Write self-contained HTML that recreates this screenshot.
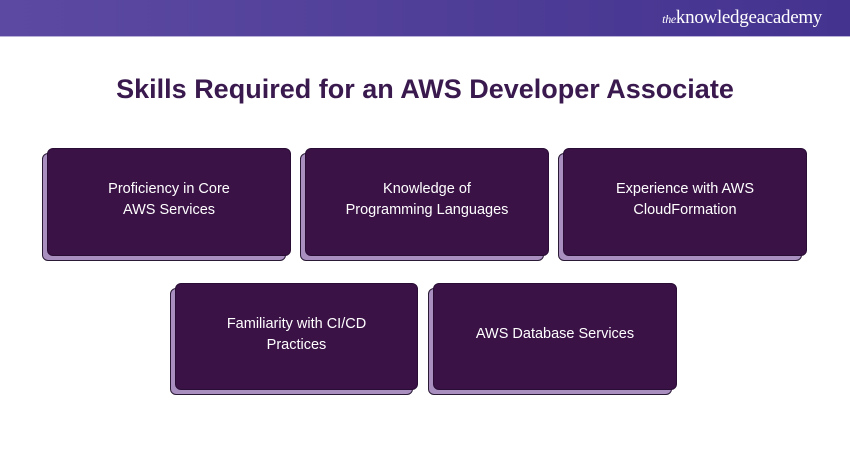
<!DOCTYPE html>
<html><head><meta charset="utf-8"><style>
body{margin:0;width:850px;height:450px;background:#fff;position:relative;overflow:hidden;font-family:"Liberation Sans",sans-serif}
.hdr{position:absolute;left:0;top:0;width:850px;height:36px;background:linear-gradient(90deg,#5c4aa2,#44338f);border-bottom:1px solid #b9b0d8}
.logo{position:absolute;right:28px;top:7px;color:#fff;font-family:"Liberation Serif",serif;font-size:19px;letter-spacing:-0.3px}
.logo i{font-size:12px}
h1{position:absolute;left:0;width:850px;top:74px;margin:0;text-align:center;font-size:27px;font-weight:bold;color:#3a1a4e}
.sh{position:absolute;background:#a88fc0;border:1.5px solid #2a1a35;border-radius:6px;box-sizing:border-box}
.bx{position:absolute;background:#3a1246;border:1.5px solid #2a0d35;border-radius:6px;box-sizing:border-box;color:#fff;font-size:14.5px;line-height:21px;text-align:center;display:flex;align-items:center;justify-content:center;padding-bottom:4px}
</style></head><body>
<div class="hdr"><div class="logo"><i>the</i>knowledgeacademy</div></div>
<h1>Skills Required for an AWS Developer Associate</h1>

<div class="sh" style="left:42px;top:153px;width:244px;height:108px"></div>
<div class="bx" style="left:47px;top:148px;width:244px;height:108px">Proficiency in Core<br>AWS Services</div>

<div class="sh" style="left:300px;top:153px;width:244px;height:108px"></div>
<div class="bx" style="left:305px;top:148px;width:244px;height:108px">Knowledge of<br>Programming Languages</div>

<div class="sh" style="left:558px;top:153px;width:244px;height:108px"></div>
<div class="bx" style="left:563px;top:148px;width:244px;height:108px">Experience with AWS<br>CloudFormation</div>

<div class="sh" style="left:170px;top:288px;width:243px;height:107px"></div>
<div class="bx" style="left:175px;top:283px;width:243px;height:107px">Familiarity with CI/CD<br>Practices</div>

<div class="sh" style="left:428px;top:288px;width:244px;height:107px"></div>
<div class="bx" style="left:433px;top:283px;width:244px;height:107px">AWS Database Services</div>
</body></html>
